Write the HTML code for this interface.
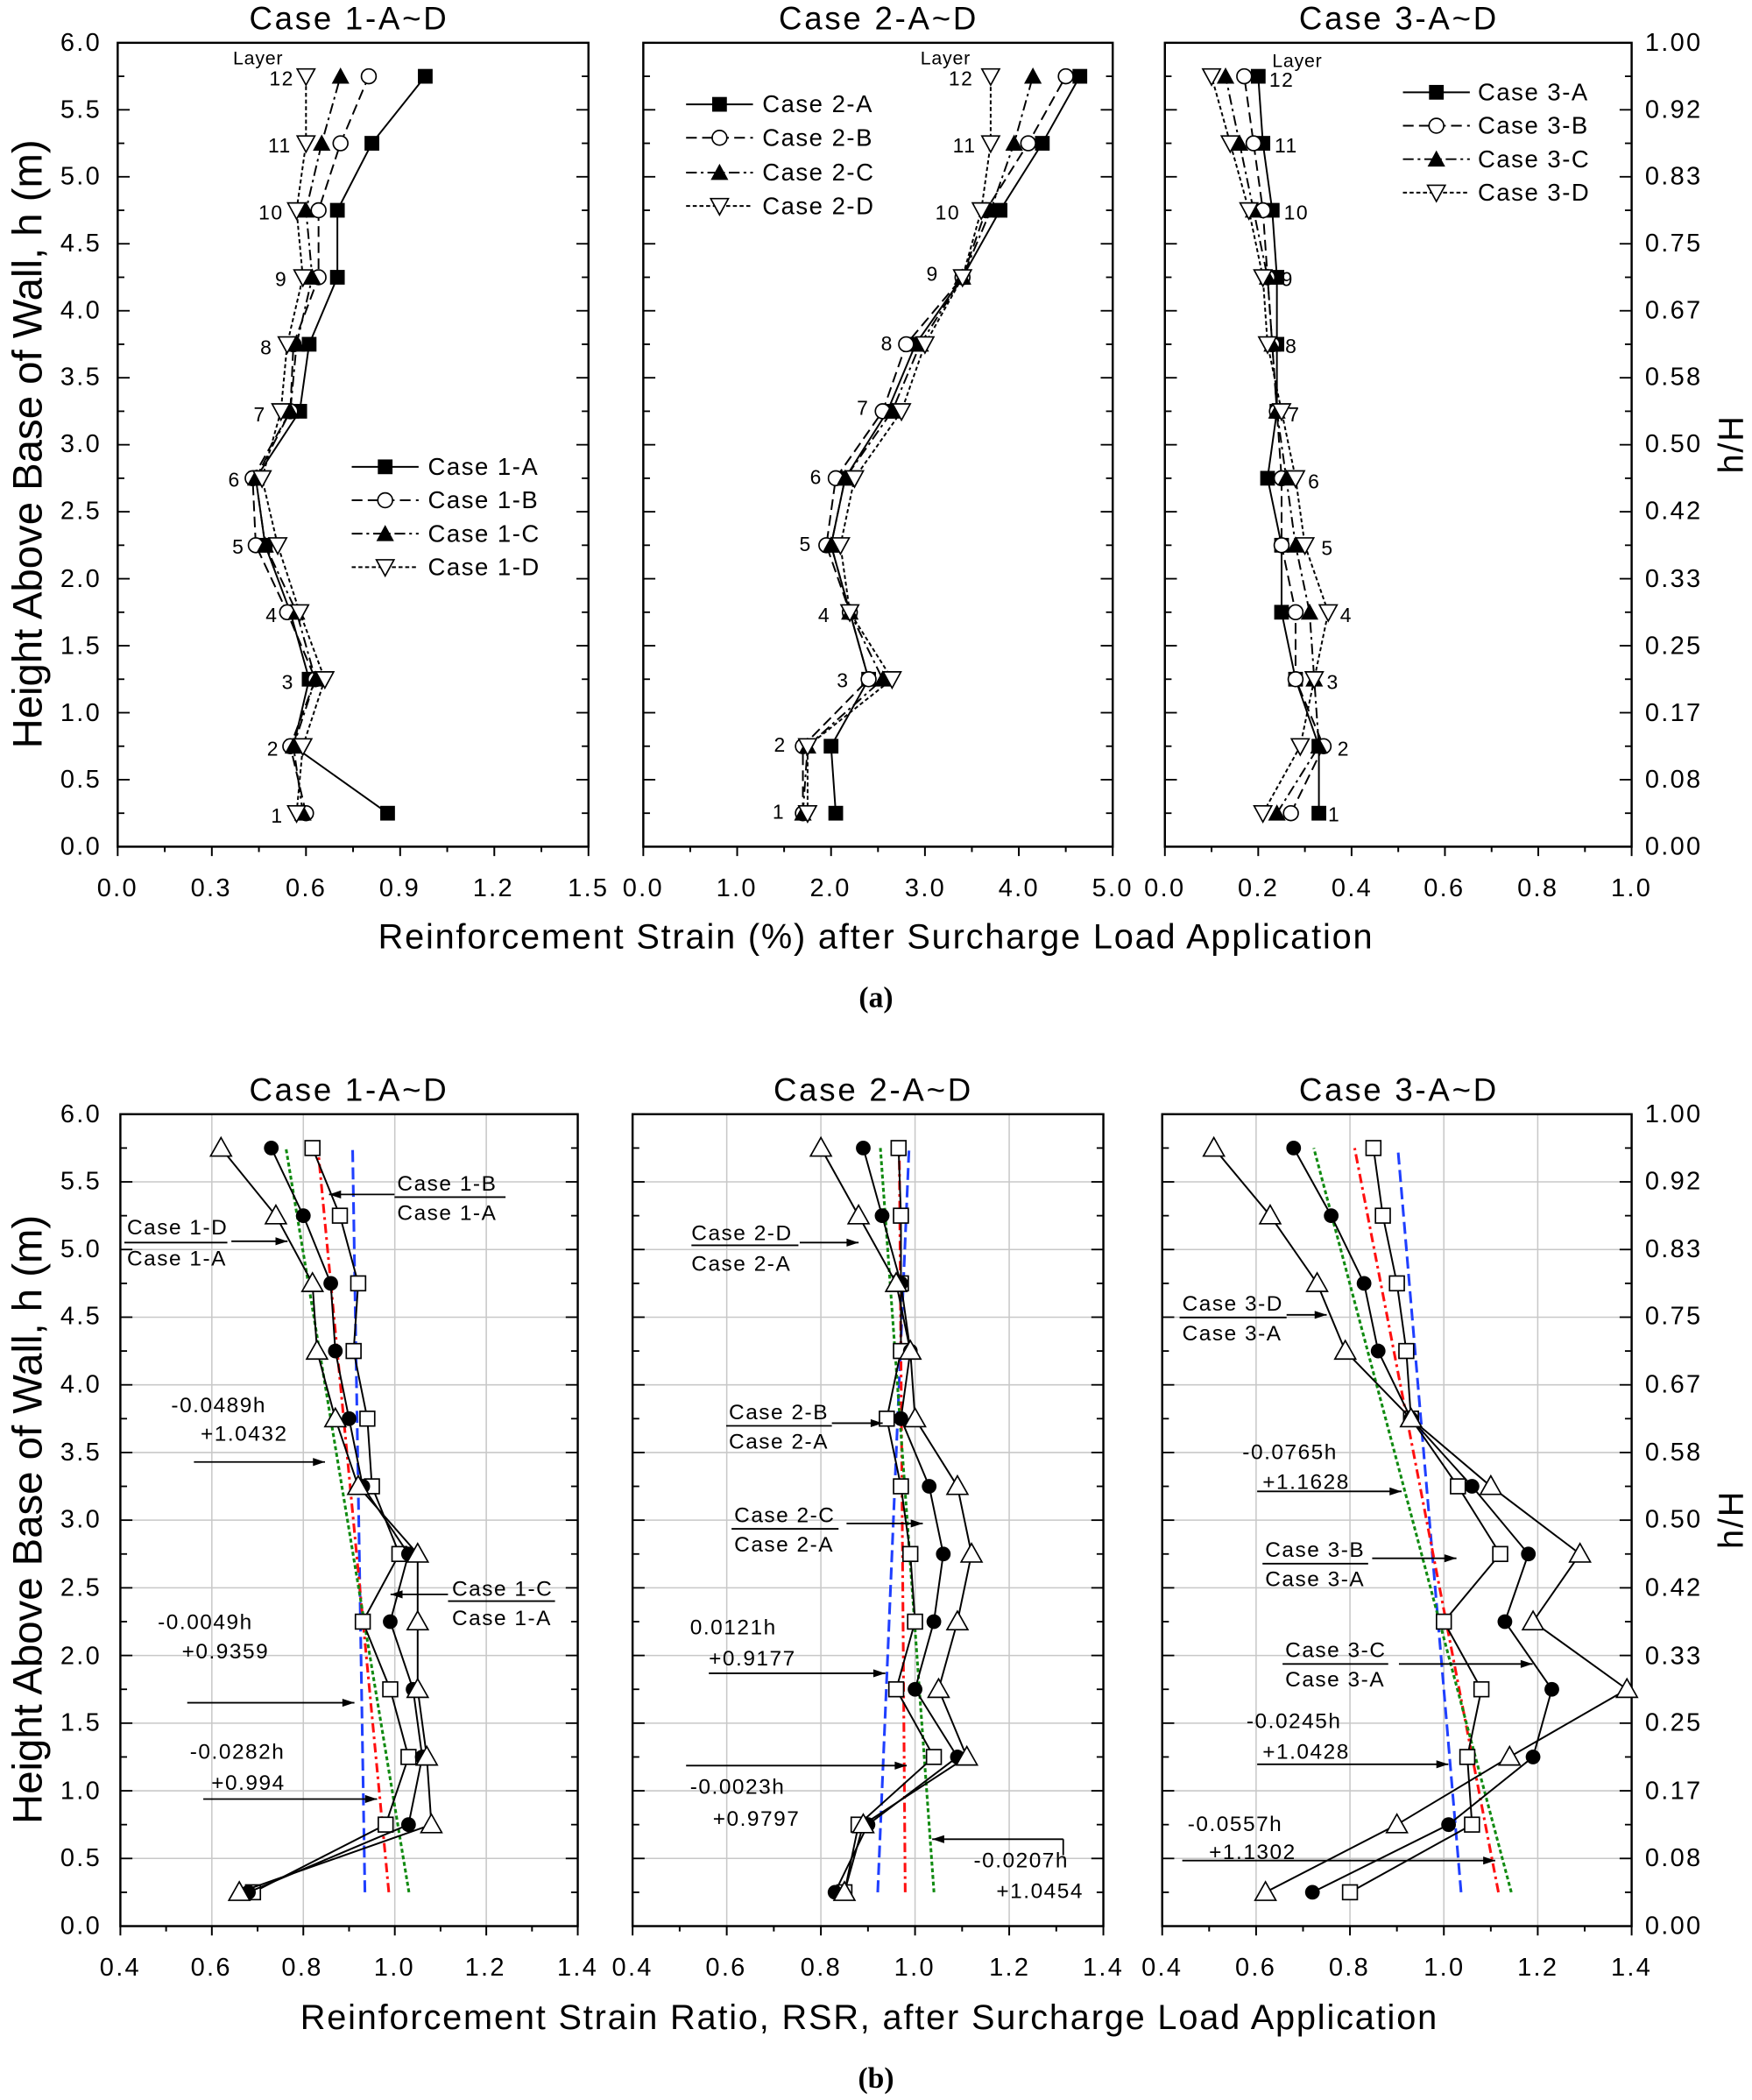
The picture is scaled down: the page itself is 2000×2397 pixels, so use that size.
<!DOCTYPE html>
<html><head><meta charset="utf-8"><style>
html,body{margin:0;padding:0;background:#fff}
svg{display:block}
text{font-family:"Liberation Sans",Arial,sans-serif;fill:#000}
.t{font-size:19px;letter-spacing:1.5px}
.ti{font-size:24px;letter-spacing:1.8px}
.ax{font-size:26px;letter-spacing:1.2px}
.an{font-size:16px;letter-spacing:1px}
.ly{font-size:14px;letter-spacing:0.5px}
.yl{font-size:31px}
</style></head><body>
<svg id="s" xmlns="http://www.w3.org/2000/svg" width="2000" height="2397" viewBox="0 0 1310 1570" preserveAspectRatio="none">
<rect width="1310" height="1570" fill="#fff"/>
<g id="grid"></g>
<g id="frames"></g>
<g id="data"></g>
<text class="ti" x="261" y="22" text-anchor="middle">Case 1-A~D</text>
<text class="ti" x="657" y="22" text-anchor="middle">Case 2-A~D</text>
<text class="ti" x="1046" y="22" text-anchor="middle">Case 3-A~D</text>
<text class="ti" x="261" y="823" text-anchor="middle">Case 1-A~D</text>
<text class="ti" x="653" y="823" text-anchor="middle">Case 2-A~D</text>
<text class="ti" x="1046" y="823" text-anchor="middle">Case 3-A~D</text>
<g class="t" text-anchor="end">
<text x="76" y="639">0.0</text><text x="76" y="589">0.5</text><text x="76" y="539">1.0</text><text x="76" y="489">1.5</text><text x="76" y="439">2.0</text><text x="76" y="388">2.5</text><text x="76" y="338">3.0</text><text x="76" y="288">3.5</text><text x="76" y="238">4.0</text><text x="76" y="188">4.5</text><text x="76" y="138">5.0</text><text x="76" y="88">5.5</text><text x="76" y="38">6.0</text>
<text x="76" y="1446">0.0</text><text x="76" y="1395">0.5</text><text x="76" y="1345">1.0</text><text x="76" y="1294">1.5</text><text x="76" y="1244">2.0</text><text x="76" y="1193">2.5</text><text x="76" y="1142">3.0</text><text x="76" y="1092">3.5</text><text x="76" y="1041">4.0</text><text x="76" y="990">4.5</text><text x="76" y="940">5.0</text><text x="76" y="889">5.5</text><text x="76" y="839">6.0</text>
</g>
<g class="t" text-anchor="start">
<text x="1230" y="639">0.00</text><text x="1230" y="589">0.08</text><text x="1230" y="539">0.17</text><text x="1230" y="489">0.25</text><text x="1230" y="439">0.33</text><text x="1230" y="388">0.42</text><text x="1230" y="338">0.50</text><text x="1230" y="288">0.58</text><text x="1230" y="238">0.67</text><text x="1230" y="188">0.75</text><text x="1230" y="138">0.83</text><text x="1230" y="88">0.92</text><text x="1230" y="38">1.00</text>
<text x="1230" y="1446">0.00</text><text x="1230" y="1395">0.08</text><text x="1230" y="1345">0.17</text><text x="1230" y="1294">0.25</text><text x="1230" y="1244">0.33</text><text x="1230" y="1193">0.42</text><text x="1230" y="1142">0.50</text><text x="1230" y="1092">0.58</text><text x="1230" y="1041">0.67</text><text x="1230" y="990">0.75</text><text x="1230" y="940">0.83</text><text x="1230" y="889">0.92</text><text x="1230" y="839">1.00</text>
</g>
<g class="t" text-anchor="middle">
<text x="88" y="670">0.0</text><text x="158" y="670">0.3</text><text x="229" y="670">0.6</text><text x="299" y="670">0.9</text><text x="369" y="670">1.2</text><text x="440" y="670">1.5</text>
<text x="481" y="670">0.0</text><text x="551" y="670">1.0</text><text x="621" y="670">2.0</text><text x="692" y="670">3.0</text><text x="762" y="670">4.0</text><text x="832" y="670">5.0</text>
<text x="871" y="670">0.0</text><text x="941" y="670">0.2</text><text x="1011" y="670">0.4</text><text x="1080" y="670">0.6</text><text x="1150" y="670">0.8</text><text x="1220" y="670">1.0</text>
<text x="90" y="1477">0.4</text><text x="158" y="1477">0.6</text><text x="226" y="1477">0.8</text><text x="295" y="1477">1.0</text><text x="363" y="1477">1.2</text><text x="432" y="1477">1.4</text>
<text x="473" y="1477">0.4</text><text x="543" y="1477">0.6</text><text x="614" y="1477">0.8</text><text x="684" y="1477">1.0</text><text x="755" y="1477">1.2</text><text x="825" y="1477">1.4</text>
<text x="869" y="1477">0.4</text><text x="939" y="1477">0.6</text><text x="1009" y="1477">0.8</text><text x="1080" y="1477">1.0</text><text x="1150" y="1477">1.2</text><text x="1220" y="1477">1.4</text>
</g>
<text class="ax" x="655" y="709" text-anchor="middle">Reinforcement Strain (%) after Surcharge Load Application</text>
<text x="655" y="753" text-anchor="middle" style="font-family:'Liberation Serif',serif;font-weight:bold;font-size:22px">(a)</text>
<text class="ax" x="650" y="1517" text-anchor="middle">Reinforcement Strain Ratio, RSR, after Surcharge Load Application</text>
<text x="655" y="1561" text-anchor="middle" style="font-family:'Liberation Serif',serif;font-weight:bold;font-size:22px">(b)</text>
<text class="yl" transform="translate(31,332) rotate(-90)" text-anchor="middle">Height Above Base of Wall, h (m)</text>
<text class="yl" transform="translate(31,1136) rotate(-90)" text-anchor="middle">Height Above Base of Wall, h (m)</text>
<text class="ax" transform="translate(1303,332) rotate(-90)" text-anchor="middle">h/H</text>
<text class="ax" transform="translate(1303,1136) rotate(-90)" text-anchor="middle">h/H</text>
<g class="ly" text-anchor="middle">
<text x="193" y="48">Layer</text><text x="707" y="48">Layer</text><text x="970" y="50">Layer</text>
</g>
<g class="t" text-anchor="end" style="font-size:15px;letter-spacing:1px">
<text x="220" y="64">12</text><text x="218" y="114">11</text><text x="212" y="164">10</text><text x="215" y="214">9</text><text x="204" y="265">8</text><text x="199" y="315">7</text><text x="180" y="364">6</text><text x="183" y="414">5</text><text x="208" y="465">4</text><text x="220" y="515">3</text><text x="209" y="565">2</text><text x="212" y="615">1</text>
<text x="728" y="64">12</text><text x="730" y="114">11</text><text x="718" y="164">10</text><text x="702" y="210">9</text><text x="668" y="262">8</text><text x="650" y="310">7</text><text x="615" y="362">6</text><text x="607" y="412">5</text><text x="621" y="465">4</text><text x="635" y="514">3</text><text x="588" y="562">2</text><text x="587" y="612">1</text>
</g>
<g class="t" text-anchor="start" style="font-size:15px;letter-spacing:1px">
<text x="949" y="65">12</text><text x="953" y="114">11</text><text x="960" y="164">10</text><text x="958" y="214">9</text><text x="961" y="264">8</text><text x="963" y="315">7</text><text x="978" y="365">6</text><text x="988" y="415">5</text><text x="1002" y="465">4</text><text x="992" y="515">3</text><text x="1000" y="565">2</text><text x="993" y="614">1</text>
</g>
<g class="t" style="font-size:18px;letter-spacing:1px">
<text x="320" y="355">Case 1-A</text><text x="320" y="380">Case 1-B</text><text x="320" y="405">Case 1-C</text><text x="320" y="430">Case 1-D</text>
<text x="570" y="84">Case 2-A</text><text x="570" y="109">Case 2-B</text><text x="570" y="135">Case 2-C</text><text x="570" y="160">Case 2-D</text>
<text x="1105" y="75">Case 3-A</text><text x="1105" y="100">Case 3-B</text><text x="1105" y="125">Case 3-C</text><text x="1105" y="150">Case 3-D</text>
</g>
<g class="an">
<text x="297" y="890">Case 1-B</text><text x="297" y="912">Case 1-A</text>
<text x="95" y="923">Case 1-D</text><text x="95" y="946">Case 1-A</text>
<text x="128" y="1056">-0.0489h</text><text x="150" y="1077">+1.0432</text>
<text x="338" y="1193">Case 1-C</text><text x="338" y="1215">Case 1-A</text>
<text x="118" y="1218">-0.0049h</text><text x="136" y="1240">+0.9359</text>
<text x="142" y="1315">-0.0282h</text><text x="158" y="1338">+0.994</text>
<text x="517" y="927">Case 2-D</text><text x="517" y="950">Case 2-A</text>
<text x="545" y="1061">Case 2-B</text><text x="545" y="1083">Case 2-A</text>
<text x="549" y="1138">Case 2-C</text><text x="549" y="1160">Case 2-A</text>
<text x="516" y="1222">0.0121h</text><text x="530" y="1245">+0.9177</text>
<text x="516" y="1341">-0.0023h</text><text x="533" y="1365">+0.9797</text>
<text x="728" y="1396">-0.0207h</text><text x="745" y="1419">+1.0454</text>
<text x="884" y="980">Case 3-D</text><text x="884" y="1002">Case 3-A</text>
<text x="929" y="1091">-0.0765h</text><text x="944" y="1113">+1.1628</text>
<text x="946" y="1164">Case 3-B</text><text x="946" y="1186">Case 3-A</text>
<text x="961" y="1239">Case 3-C</text><text x="961" y="1261">Case 3-A</text>
<text x="932" y="1292">-0.0245h</text><text x="944" y="1315">+1.0428</text>
<text x="888" y="1369">-0.0557h</text><text x="904" y="1390">+1.1302</text>
</g>
<g id="ann"></g>
</svg>
<script>
(function(){
var NS="http://www.w3.org/2000/svg";
function el(p,t,a){var e=document.createElementNS(NS,t);for(var k in a)e.setAttribute(k,a[k]);document.getElementById(p).appendChild(e);return e;}
var H=[0.25,0.75,1.25,1.75,2.25,2.75,3.25,3.75,4.25,4.75,5.25,5.75];
function P(x0,x1,v0,v1,y0,y1){return {x0:x0,x1:x1,v0:v0,v1:v1,y0:y0,y1:y1,X:function(v){return x0+(v-v0)/(v1-v0)*(x1-x0)},Y:function(h){return y0-h/6*(y0-y1)}};}
var TP=[P(88,440,0,1.5,633,32),P(481,832,0,5,633,32),P(871,1220,0,1,633,32)];
var BT=[P(90,432,0.4,1.4,1440,833),P(473,825,0.4,1.4,1440,833),P(869,1220,0.4,1.4,1440,833)];
function frame(p,grid){
 if(grid){for(var i=1;i<5;i++){var x=p.x0+i*(p.x1-p.x0)/5;el('grid','line',{x1:x,x2:x,y1:p.y1,y2:p.y0,stroke:'#c8c8c8','stroke-width':1});}
 for(var j=1;j<12;j++){var y=p.Y(j*0.5);el('grid','line',{x1:p.x0,x2:p.x1,y1:y,y2:y,stroke:'#c8c8c8','stroke-width':1});}}
 el('frames','rect',{x:p.x0,y:p.y1,width:p.x1-p.x0,height:p.y0-p.y1,fill:'none',stroke:'#000','stroke-width':1.6});
 for(var i=0;i<=10;i++){var x=p.x0+i*(p.x1-p.x0)/10,L=i%2?4:7;
  el('frames','line',{x1:x,x2:x,y1:p.y0,y2:p.y0+L,stroke:'#000','stroke-width':1.3});}
 for(var j=0;j<=24;j++){var y=p.Y(j*0.25),L=j%2?5:9;
  el('frames','line',{x1:p.x0,x2:p.x0+L,y1:y,y2:y,stroke:'#000','stroke-width':1.2});
  el('frames','line',{x1:p.x1,x2:p.x1-L,y1:y,y2:y,stroke:'#000','stroke-width':1.2});}
}
TP.forEach(function(p){frame(p,0)});BT.forEach(function(p){frame(p,1)});
function mark(x,y,t,r){r=r||5.5;
 if(t=='sq')el('data','rect',{x:x-r,y:y-r,width:2*r,height:2*r,fill:'#000'});
 if(t=='osq')el('data','rect',{x:x-r,y:y-r,width:2*r,height:2*r,fill:'#fff',stroke:'#000','stroke-width':1.1});
 if(t=='oc')el('data','circle',{cx:x,cy:y,r:r,fill:'#fff',stroke:'#000','stroke-width':1.1});
 if(t=='c')el('data','circle',{cx:x,cy:y,r:r,fill:'#000'});
 if(t=='tu')el('data','polygon',{points:(x-r*1.2)+','+(y+r)+' '+(x+r*1.2)+','+(y+r)+' '+x+','+(y-r*1.2),fill:'#000'});
 if(t=='otu')el('data','polygon',{points:(x-r*1.3)+','+(y+r)+' '+(x+r*1.3)+','+(y+r)+' '+x+','+(y-r*1.3),fill:'#fff',stroke:'#000','stroke-width':1.1});
 if(t=='otd')el('data','polygon',{points:(x-r*1.2)+','+(y-r)+' '+(x+r*1.2)+','+(y-r)+' '+x+','+(y+r*1.2),fill:'#fff',stroke:'#000','stroke-width':1.1});
}
var D={solid:'none',dash:'8,4',dd:'8,3,2,3',dot:'3,2'};
function series(p,vals,m,ds,r){var pts=vals.map(function(v,i){return p.X(v)+','+p.Y(H[i])}).join(' ');
 el('data','polyline',{points:pts,fill:'none',stroke:'#000','stroke-width':1.3,'stroke-dasharray':D[ds]});
 vals.forEach(function(v,i){mark(p.X(v),p.Y(H[i]),m,r)});}
var S=['sq','oc','tu','otd'],LS=['solid','dash','dd','dot'];
var TD=[
[[0.86,0.56,0.61,0.55,0.47,0.44,0.58,0.61,0.70,0.70,0.81,0.98],[0.60,0.55,0.63,0.54,0.44,0.43,0.55,0.56,0.64,0.64,0.71,0.80],[0.59,0.56,0.63,0.57,0.47,0.44,0.55,0.57,0.62,0.60,0.65,0.71],[0.57,0.59,0.66,0.58,0.51,0.46,0.52,0.54,0.59,0.57,0.60,0.60]],
[[2.05,2.0,2.4,2.2,2.0,2.15,2.6,2.9,3.4,3.8,4.25,4.65],[1.7,1.7,2.4,2.2,1.95,2.05,2.55,2.8,3.4,3.65,4.1,4.5],[1.7,1.75,2.55,2.2,2.0,2.15,2.65,2.95,3.4,3.7,3.95,4.15],[1.75,1.75,2.65,2.2,2.1,2.25,2.75,3.0,3.4,3.6,3.7,3.7]],
[[0.33,0.33,0.28,0.25,0.25,0.22,0.24,0.24,0.24,0.23,0.21,0.20],[0.27,0.34,0.28,0.28,0.25,0.25,0.24,0.23,0.22,0.21,0.19,0.17],[0.24,0.33,0.32,0.31,0.28,0.26,0.24,0.23,0.22,0.19,0.16,0.13],[0.21,0.29,0.32,0.35,0.30,0.28,0.25,0.22,0.21,0.18,0.14,0.10]]];
TD.forEach(function(set,k){set.forEach(function(v,i){series(TP[k],v,S[i],LS[i])})});
var LG=[[263,313,[349,374,399,424]],[513,563,[78,103,129,154]],[1049,1099,[69,94,119,144]]];
LG.forEach(function(g){g[2].forEach(function(y,i){el('data','line',{x1:g[0],x2:g[1],y1:y,y2:y,stroke:'#000','stroke-width':1.3,'stroke-dasharray':D[LS[i]]});mark((g[0]+g[1])/2,y,S[i]);});});
var FIT=[[[-0.0049,0.9359],[-0.0282,0.994],[-0.0489,1.0432]],[[0.0121,0.9177],[-0.0023,0.9797],[-0.0207,1.0454]],[[-0.0245,1.0428],[-0.0557,1.1302],[-0.0765,1.1628]]];
var FC=[['#1f3fff','9,4'],['#ff1010','7,3,2,3'],['#108a10','3,2']];
FIT.forEach(function(f,k){var p=BT[k];f.forEach(function(c,i){
 el('data','line',{x1:p.X(c[0]*0.25+c[1]),y1:p.Y(0.25),x2:p.X(c[0]*5.75+c[1]),y2:p.Y(5.75),stroke:FC[i][0],'stroke-width':2,'stroke-dasharray':FC[i][1]});});});
var BD=[
[[0.69,0.98,1.03,0.99,0.93,1.01,0.95,0.94,0.91,0.92,0.88,0.82],[0.68,1.03,1.06,1.04,0.99,1.03,0.93,0.90,0.87,0.86,0.80,0.73],[0.66,1.08,1.07,1.05,1.05,1.05,0.92,0.87,0.83,0.82,0.74,0.62]],
[[0.85,0.88,1.04,0.96,1.0,0.99,0.97,0.94,0.97,0.97,0.97,0.965],[0.83,0.90,1.09,1.00,1.04,1.06,1.03,0.97,0.99,0.97,0.93,0.89],[0.85,0.89,1.11,1.05,1.09,1.12,1.09,1.00,0.99,0.96,0.88,0.80]],
[[0.80,1.06,1.05,1.08,1.00,1.12,1.03,0.93,0.92,0.90,0.87,0.85],[0.72,1.01,1.19,1.23,1.13,1.18,1.06,0.93,0.86,0.83,0.76,0.68],[0.62,0.90,1.14,1.39,1.19,1.29,1.10,0.93,0.79,0.73,0.63,0.51]]];
var BM=['osq','c','otu'];
BD.forEach(function(set,k){set.forEach(function(v,i){series(BT[k],v,BM[i],'solid',i==2?6:5.5)})});
function ln(x1,y1,x2,y2){el('ann','line',{x1:x1,y1:y1,x2:x2,y2:y2,stroke:'#000','stroke-width':1.2});}
function ar(x1,y,x2){ln(x1,y,x2,y);var d=x2>x1?-1:1;el('ann','polygon',{points:x2+','+y+' '+(x2+d*9)+','+(y-3)+' '+(x2+d*9)+','+(y+3),fill:'#000'});}
ln(295,895,378,895);ar(295,893,246);
ln(93,929,170,929);ar(173,928,215);
ar(145,1093,243);
ln(335,1197,415,1197);ar(335,1192,292);
ar(140,1273,265);
ar(152,1345,282);
ln(517,931,597,931);ar(598,929,642);
ln(543,1066,622,1066);ar(622,1064,660);
ln(547,1143,627,1143);ar(633,1139,690);
ar(530,1251,662);
ar(513,1320,678);
ar(795,1375,697);ln(795,1375,795,1387);
ln(882,985,962,985);ar(962,983,992);
ar(940,1115,1048);
ln(944,1169,1023,1169);ar(1026,1165,1089);
ln(959,1244,1038,1244);ar(1046,1244,1146);
ar(940,1319,1083);
ar(884,1391,1118);
})();
</script>
</body></html>
